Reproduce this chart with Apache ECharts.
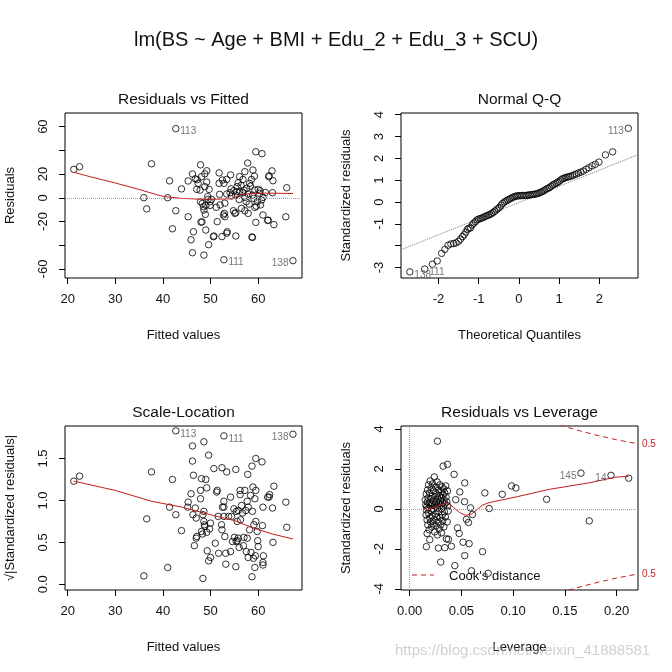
<!DOCTYPE html>
<html><head><meta charset="utf-8">
<script src="https://cdn.jsdelivr.net/npm/echarts@6/dist/echarts.min.js"></script>
<style>html,body{margin:0;padding:0;background:#fff}#c{width:672px;height:672px}</style>
</head><body><div id="c"></div><script>
// ---------- DATA ----------
const mainTitle = 'lm(BS ~ Age + BMI + Edu_2 + Edu_3 + SCU)';
const panelTitles = ['Residuals vs Fitted', 'Normal Q-Q', 'Scale-Location', 'Residuals vs Leverage'];

// Residuals vs Fitted: [fitted, residual]
const rvfPoints = [[21.3,24.0],[22.5,26.2],[37.6,28.7],[36.0,0.1],[36.6,-9.3],[41.0,0.1],[41.4,14.3],[42.0,-26.1],[42.7,-10.9],[42.7,58.3],[43.9,7.5],[45.3,-16.0],[45.3,14.2],[46.2,20.1],[45.9,-35.4],[46.4,-28.6],[46.2,-46.3],[47.9,27.8],[48.6,-48.3],[49.2,22.8],[49.6,-39.5],[49.0,-27.2],[48.0,-20.5],[48.2,-20.3],[50.7,-32.2],[51.4,-20.1],[51.8,21.0],[52.5,15.0],[52.8,12.2],[52.4,-32.7],[53.4,-29.8],[55.3,-32.2],[54.2,19.3],[52.8,-52.2],[58.7,-33.0],[59.5,38.8],[60.8,37.2],[57.8,29.3],[58.9,23.4],[61.0,-14.5],[62.0,-19.1],[63.3,-22.6],[62.9,22.7],[62.3,18.6],[63.1,14.4],[63.0,4.3],[65.8,-16.0],[66.0,8.5],[67.3,-53.0],[59.5,-20.7],
[48.1,17.8],[48.8,20.2],[47.2,15.3],[57.2,22.0],[59.2,18.3],[62.2,17.8],[53.4,15.5],[51.8,12.2],[56.1,17.8],[55.8,12.7],[56.8,15.5],[58.2,12.2],[58.6,15.5],[47.4,12.2],[47.8,6.5],[48.8,9.4],[49.7,7.1],[47.1,7.1],[49.2,13.3],[54.9,6.0],[55.5,5.1],[56.1,5.1],[56.8,4.3],[57.9,3.2],[58.8,2.3],[59.3,6.5],[60.0,7.1],[60.3,3.7],[51.9,2.9],[53.4,3.2],[54.1,4.3],[54.4,1.5],[55.3,2.3],[57.2,0.4],[59.1,-0.5],[60.7,-1.9],[61.0,0.4],[47.9,-3.3],[48.3,-4.7],[49.5,-1.3],[49.9,-3.3],[50.2,-1.3],[49.0,-6.4],[48.6,-10.3],[48.5,-7.5],[49.9,-6.4],[52.7,-14.5],[52.9,-13.1],[53.0,-15.9],[54.8,-10.9],[55.1,-13.1],[55.3,-12.6],[56.5,-8.9],[57.2,-10.9],[57.9,-13.1],[57.5,-3.3],[58.1,-5.3],[59.6,-7.0],[59.3,-8.1],[59.8,-3.3],[62.1,-18.8],[50.6,-32.8],[53.5,-28.6],[58.8,-33.4],[46.8,16.0],[55.6,9.5],[56.4,10.5],[57.6,8.0],[58.4,9.8],[60.4,6.0],[56.0,-1.5],[53.0,-4.5],[51.2,-8.0],[60.5,-6.0],[54.3,7.5],[49.4,1.0],[48.9,-14.0],[52.0,-6.0],[61.5,4.5],[57.0,6.5]];
const rvfSmooth = [[21.3,21.5],[25,17.5],[30,12.5],[35,7.0],[38,3.5],[40,1.2],[43.6,-0.4],[47.8,-1.2],[51.3,-1.2],[54.1,-0.8],[55.5,1.0],[56.5,2.8],[58.5,3.6],[62,4.0],[67.3,3.6]];
const rvfLabels = [['113',42.7,58.3],['111',52.8,-52.2],['138',67.3,-53.0]];

// Normal Q-Q: [theoretical quantile, standardized residual]
const qqPoints = [[-2.71,-3.20],[-2.34,-3.07],[-2.15,-2.85],[-2.03,-2.70],[-1.92,-2.35],[-1.84,-2.17],[-1.76,-1.98],[-1.69,-1.92],[-1.62,-1.90],[-1.56,-1.87],[-1.50,-1.80],[-1.45,-1.70],[-1.40,-1.58],[-1.36,-1.50],[-1.32,-1.38],[-1.28,-1.25],[-1.24,-1.20],[-1.20,-1.18],[-1.16,-1.05],[-1.12,-0.96],[-1.08,-0.90],[-1.04,-0.82],[-1.00,-0.78],[-0.96,-0.76],[-0.92,-0.73],[-0.88,-0.70],[-0.84,-0.66],[-0.80,-0.63],[-0.76,-0.60],[-0.72,-0.57],[-0.68,-0.53],[-0.64,-0.48],[-0.60,-0.42],[-0.56,-0.36],[-0.52,-0.30],[-0.48,-0.24],[-0.44,-0.14],[-0.40,-0.06],[-0.36,0.00],[-0.32,0.05],[-0.28,0.09],[-0.24,0.13],[-0.20,0.17],[-0.16,0.21],[-0.12,0.24],[-0.08,0.27],[-0.04,0.28],[0.00,0.29],[0.04,0.29],[0.08,0.30],[0.12,0.30],[0.16,0.30],[0.20,0.31],[0.24,0.32],[0.28,0.33],[0.32,0.34],[0.36,0.35],[0.40,0.36],[0.44,0.38],[0.48,0.40],[0.52,0.43],[0.56,0.46],[0.60,0.50],[0.64,0.54],[0.68,0.59],[0.72,0.63],[0.76,0.66],[0.80,0.72],[0.84,0.78],[0.88,0.82],[0.92,0.86],[0.96,0.90],[1.00,0.95],[1.04,1.01],[1.08,1.06],[1.12,1.09],[1.16,1.12],[1.20,1.14],[1.24,1.16],[1.28,1.18],[1.33,1.21],[1.38,1.25],[1.43,1.29],[1.48,1.33],[1.54,1.37],[1.60,1.42],[1.67,1.50],[1.74,1.57],[1.82,1.66],[1.90,1.73],[1.99,1.83],[2.15,2.16],[2.33,2.30],[2.72,3.38]];
const qqLineCoef = {intercept: -0.02, slope: 0.74};
const qqLabels = [['113',2.72,3.38],['138',-2.71,-3.20],['111',-2.34,-3.07]];

// Scale-Location: [fitted, sqrt|std resid|]
const slPoints = [[21.3,1.23],[22.5,1.29],[37.6,1.34],[36.0,0.10],[36.6,0.78],[41.0,0.20],[41.4,0.92],[42.0,1.25],[42.7,0.83],[42.7,1.83],[43.9,0.64],[45.3,0.98],[45.2,0.92],[46.2,1.47],[45.9,1.08],[46.4,1.30],[46.2,1.65],[48.6,1.70],[49.6,1.54],[49.2,1.15],[47.9,1.12],[48.1,1.26],[49.0,1.25],[50.7,1.38],[51.4,1.12],[52.4,1.39],[53.4,1.34],[55.3,1.37],[52.8,1.77],[58.7,1.41],[59.5,1.50],[60.8,1.46],[57.8,1.31],[67.3,1.79],[65.8,0.98],[66.0,0.68],[63.1,0.50],[63.0,0.91],[63.3,1.17],[62.0,1.04],[62.3,1.04],[61.0,0.92],[59.5,0.75],[48.4,0.07],[58.7,0.09],[53.2,0.24],[55.3,0.21],[49.6,0.28],[50.0,0.32],[51.7,0.37],[53.2,0.37],[54.2,0.39],[57.5,0.39],[57.9,0.32],[59.0,0.31],[59.3,0.20],[61.0,0.26],[61.0,0.23],[61.1,0.34],[56.9,0.46],[56.0,0.44],[46.6,0.46],[47.0,0.55],[47.1,0.57],[48.1,0.63],[49.2,0.62],[49.8,0.66],[50.0,0.73],[51.0,0.49],[52.4,0.65],[52.8,0.81],[53.8,0.81],[53.0,0.57],[54.6,0.51],[55.4,0.51],[55.8,0.55],[57.0,0.56],[57.7,0.55],[58.2,0.65],[59.1,0.71],[59.8,0.63],[59.9,0.52],[60.0,0.45],[58.5,0.38],[59.4,0.34],[54.2,1.04],[56.2,1.07],[57.2,1.12],[58.4,1.06],[58.9,1.16],[59.5,1.12],[59.3,1.02],[54.9,0.90],[55.4,0.87],[55.8,0.88],[56.7,0.85],[57.4,0.88],[57.9,0.92],[58.8,0.87],[52.8,0.92],[52.5,0.92],[52.8,0.99],[46.8,0.91],[48.4,0.83],[48.6,0.87],[47.0,0.79],[46.3,0.83],[48.6,0.75],[48.7,0.71],[48.8,0.69],[47.9,1.02],[51.6,0.81],[52.3,0.71],[54.4,0.81],[55.6,0.75],[56.3,0.77],[56.5,0.94],[57.7,0.99],[51.3,1.10],[56.2,1.12],[60.9,0.70],[62.4,1.07],[55.6,0.52],[55.0,0.56],[48.3,0.60],[49.3,0.40]];
const slSmooth = [[21.3,1.23],[30,1.12],[37.6,0.99],[44,0.92],[50.6,0.82],[55,0.76],[59,0.67],[63,0.60],[67.3,0.54]];
const slLabels = [['113',42.7,1.83],['111',52.8,1.77],['138',67.3,1.79]];

// Residuals vs Leverage: [leverage, std resid]
const levPoints = [[0.0268,3.39],[0.0323,2.14],[0.0365,2.23],[0.0429,1.73],[0.0532,1.30],[0.0484,0.85],[0.0445,0.46],[0.0530,0.36],[0.0587,0.05],[0.0607,-0.28],[0.0548,-0.52],[0.0568,-0.68],[0.0462,-0.95],[0.0478,-1.23],[0.0516,-1.67],[0.0574,-1.74],[0.0403,-1.87],[0.0339,-1.94],[0.0277,-1.96],[0.0374,-1.52],[0.0532,-2.34],[0.0704,-2.14],[0.0436,-2.84],[0.0300,-2.66],[0.0597,-3.10],[0.0758,-3.22],[0.0726,0.80],[0.0768,0.02],[0.0894,0.73],[0.0984,1.15],[0.1026,1.05],[0.1323,0.48],[0.1655,1.79],[0.1735,-0.60],[0.1945,1.68],[0.2116,1.54],[0.0161,-1.89],[0.0194,-1.54],[0.0168,-1.23],
[0.0150,0.45],[0.0155,0.20],[0.0158,-0.30],[0.0160,0.75],[0.0162,-0.05],[0.0165,0.10],[0.0168,-0.55],[0.0170,0.35],[0.0172,0.95],[0.0175,-0.80],[0.0178,0.55],[0.0180,-0.20],[0.0182,1.20],[0.0185,0.05],[0.0188,-1.05],[0.0190,0.30],[0.0192,0.80],[0.0195,-0.45],[0.0198,1.40],[0.0200,0.15],[0.0202,-0.65],[0.0205,0.50],[0.0208,1.05],[0.0210,-0.10],[0.0212,-0.90],[0.0215,0.25],[0.0218,0.65],[0.0220,-0.35],[0.0222,1.25],[0.0225,0.00],[0.0228,-0.75],[0.0230,0.40],[0.0232,0.90],[0.0235,-0.55],[0.0238,1.60],[0.0240,0.20],[0.0242,-1.15],[0.0245,0.60],[0.0248,-0.25],[0.0250,1.10],[0.0252,0.10],[0.0255,-0.85],[0.0258,0.35],[0.0260,0.75],[0.0262,-0.40],[0.0265,1.35],[0.0268,-1.30],[0.0270,0.05],[0.0272,0.50],[0.0275,-0.65],[0.0278,0.95],[0.0280,0.25],[0.0282,-0.15],[0.0285,-1.00],[0.0288,0.65],[0.0290,0.15],[0.0292,1.20],[0.0295,-0.45],[0.0298,0.40],[0.0300,-0.80],[0.0303,0.85],[0.0305,0.00],[0.0308,-1.20],[0.0310,0.55],[0.0313,1.10],[0.0315,-0.30],[0.0318,0.30],[0.0320,-0.60],[0.0323,0.70],[0.0325,0.10],[0.0328,1.00],[0.0330,-0.90],[0.0333,0.45],[0.0335,-0.15],[0.0338,0.80],[0.0340,0.25],[0.0345,-0.40],[0.0348,1.15],[0.0352,0.60],[0.0355,-1.50],[0.0358,0.35],[0.0362,-0.65],[0.0365,0.90],[0.0368,0.15],[0.0372,-0.10]];
const levSmooth = [[0.0148,-0.07],[0.025,0.10],[0.033,0.25],[0.036,0.30],[0.040,0.18],[0.048,-0.18],[0.054,-0.32],[0.060,-0.25],[0.066,0.0],[0.070,0.18],[0.077,0.32],[0.103,0.60],[0.135,0.98],[0.174,1.31],[0.199,1.59],[0.2116,1.63]];
const levLabels = [['145',0.1655,1.79],['14',0.1945,1.68]];
const cookH =     [0.145, 0.16, 0.17, 0.18, 0.19, 0.20, 0.21, 0.2206];
const cookUpper = [4.20, 3.97, 3.83, 3.70, 3.58, 3.46, 3.36, 3.26];
const cookLower = [-4.20,-3.97,-3.83,-3.70,-3.58,-3.46,-3.36,-3.26];
const cookLevelLabel = '0.5';
const legendText = "Cook's distance";

const xTitles = ['Fitted values','Theoretical Quantiles','Fitted values','Leverage'];
const yTitles = ['Residuals','Standardized residuals','\u221A|Standardized residuals|','Standardized residuals'];
const watermark = 'https://blog.csdn.net/weixin_41888581';

const rvfXTicks = [20,30,40,50,60];
const rvfYTicks = [-60,-40,-20,0,20,40,60];
const rvfYLabels = [-60,-20,0,20,60];
const qqXTicks = [-2,-1,0,1,2];
const qqYTicks = [-3,-2,-1,0,1,2,3,4];
const qqYLabels = [-3,-1,0,1,2,3,4];
const slYTicks = [0,0.5,1.0,1.5];
const levXTicks = [0,0.05,0.10,0.15,0.20];
const levYTicks = [-4,-2,0,2,4];

// ---------- STYLE ----------
const FONT = '"Liberation Sans", Arial, sans-serif';
const RED = '#c41e1e';
const grids = [
  {left:65, top:113, width:237, height:165},
  {left:401, top:113, width:237, height:165},
  {left:65, top:426, width:237, height:164},
  {left:401, top:426, width:237, height:164}
];
const ranges = [
  {x:[19.44,69.2], y:[-67.6,71.5]},
  {x:[-2.93,2.96], y:[-3.48,4.08]},
  {x:[19.44,69.2], y:[-0.068,1.888]},
  {x:[-0.0084,0.2206], y:[-4.06,4.15]}
];

function xAxis(i, ticks, labels, fmt) {
  return {type:'value', gridIndex:i, position:'bottom', min:ranges[i].x[0], max:ranges[i].x[1],
    axisLine:{show:false, onZero:false}, splitLine:{show:false},
    axisTick:{show:true, inside:false, length:6, customValues:ticks, lineStyle:{color:'#000'}},
    axisLabel:{customValues:labels||ticks, margin:15, color:'#111', fontSize:13, fontFamily:FONT,
      formatter: fmt || (v=>String(v))}};
}
function yAxis(i, ticks, labels, fmt) {
  return {type:'value', gridIndex:i, position:'left', min:ranges[i].y[0], max:ranges[i].y[1],
    axisLine:{show:false, onZero:false}, splitLine:{show:false},
    axisTick:{show:true, inside:false, length:6, customValues:ticks, lineStyle:{color:'#000'}},
    axisLabel:{customValues:labels||ticks, rotate:90, margin:15, color:'#111', fontSize:13, fontFamily:FONT,
      formatter: fmt || (v=>String(v))}};
}
const pointStyle = {symbol:'circle', symbolSize:6.5, itemStyle:{color:'rgba(0,0,0,0)', borderColor:'#000', borderWidth:1}};
function scatter(i, data) {
  return Object.assign({type:'scatter', xAxisIndex:i, yAxisIndex:i, data:data, silent:true, z:3, clip:false}, pointStyle);
}
function line(i, data, color, dash, z) {
  return {type:'line', xAxisIndex:i, yAxisIndex:i, data:data, showSymbol:false, symbol:'none', silent:true,
    lineStyle:{color:color, width:1, type:dash||'solid'}, z:z||4, clip:true, animation:false};
}
function labelSeries(i, labels, posMap) {
  return {type:'scatter', xAxisIndex:i, yAxisIndex:i, symbolSize:1, itemStyle:{color:'rgba(0,0,0,0)'}, silent:true, z:5,
    data: labels.map(l => ({name:l[0], value:[l[1], l[2]],
      label:{show:true, formatter:l[0], position:posMap[l[0]]||'right', distance:4, offset:[0,3],
        color:'#555', fontSize:10, fontFamily:FONT}}))};
}
function zeroMark(axisKey) {
  return {silent:true, symbol:'none', label:{show:false}, animation:false,
    lineStyle:{color:'#9a9a9a', type:'dotted', width:1}, data: axisKey.map(k => ({[k]:0}))};
}

const sRvf = scatter(0, rvfPoints); sRvf.markLine = zeroMark(['yAxis']);
const sSl = scatter(2, slPoints);
const sLev = scatter(3, levPoints); sLev.markLine = zeroMark(['yAxis','xAxis']);
const qqLineData = ranges[1].x.map(x => [x, qqLineCoef.intercept + qqLineCoef.slope * x]);

const option = {
  animation:false,
  backgroundColor:'#fff',
  grid: grids.map(g => Object.assign({show:true, borderColor:'#000', borderWidth:1, backgroundColor:'transparent'}, g)),
  xAxis: [
    xAxis(0, rvfXTicks), xAxis(1, qqXTicks), xAxis(2, rvfXTicks),
    xAxis(3, levXTicks, null, v => v.toFixed(2))
  ],
  yAxis: [
    yAxis(0, rvfYTicks, rvfYLabels), yAxis(1, qqYTicks, qqYLabels),
    yAxis(2, slYTicks, null, v => v.toFixed(1)), yAxis(3, levYTicks)
  ],
  series: [
    sRvf, line(0, rvfSmooth, RED),
    labelSeries(0, rvfLabels, {'113':'right','111':'right','138':'left'}),
    line(1, qqLineData, '#777', 'dotted', 2), scatter(1, qqPoints),
    labelSeries(1, qqLabels, {'113':'left','138':'right','111':'right'}),
    sSl, line(2, slSmooth, RED),
    labelSeries(2, slLabels, {'113':'right','111':'right','138':'left'}),
    sLev, line(3, levSmooth, RED),
    line(3, cookH.map((h,k)=>[h, cookUpper[k]]), RED, [5,4]),
    line(3, cookH.map((h,k)=>[h, cookLower[k]]), RED, [5,4]),
    labelSeries(3, levLabels, {'145':'left','14':'left'})
  ]
};

const chart = echarts.init(document.getElementById('c'), null, {renderer:'canvas'});
chart.setOption(option);

function txt(x, y, text, size, opts) {
  opts = opts || {};
  return {type:'text', x:x, y:y, rotation:opts.rot||0, silent:true, z:10,
    style:{text:text, fontSize:size, fontFamily:FONT, fill:opts.color||'#111',
      align:opts.align||'center', verticalAlign:'middle'}};
}
const gfx = [];
gfx.push(txt(336, 40, mainTitle, 20));
grids.forEach((g, i) => {
  const cx = g.left + g.width/2;
  gfx.push(txt(cx, g.top - 13, panelTitles[i], 15.5));
  gfx.push(txt(cx, g.top + g.height + 57, xTitles[i], 13));
  gfx.push(txt(g.left - 55, g.top + g.height/2, yTitles[i], 13, {rot:Math.PI/2}));
});
// legend for Cook's distance
const lg = grids[3];
gfx.push({type:'line', silent:true, z:10, shape:{x1:lg.left+11, y1:lg.top+lg.height-15, x2:lg.left+33, y2:lg.top+lg.height-15},
  style:{stroke:RED, lineWidth:1, lineDash:[5,4]}});
gfx.push(txt(lg.left+48, lg.top+lg.height-14, legendText, 13, {align:'left'}));
// 0.5 labels at the right end of the Cook's curves
const last = cookH.length - 1;
[cookUpper[last], cookLower[last]].forEach(v => {
  const p = chart.convertToPixel({xAxisIndex:3, yAxisIndex:3}, [cookH[last], v]);
  gfx.push(txt(lg.left + lg.width + 4, p[1], cookLevelLabel, 10, {align:'left', color:RED}));
});
gfx.push(txt(395, 651, watermark, 15, {align:'left', color:'rgba(170,170,170,0.55)'}));
chart.setOption({graphic: gfx});
</script></body></html>
